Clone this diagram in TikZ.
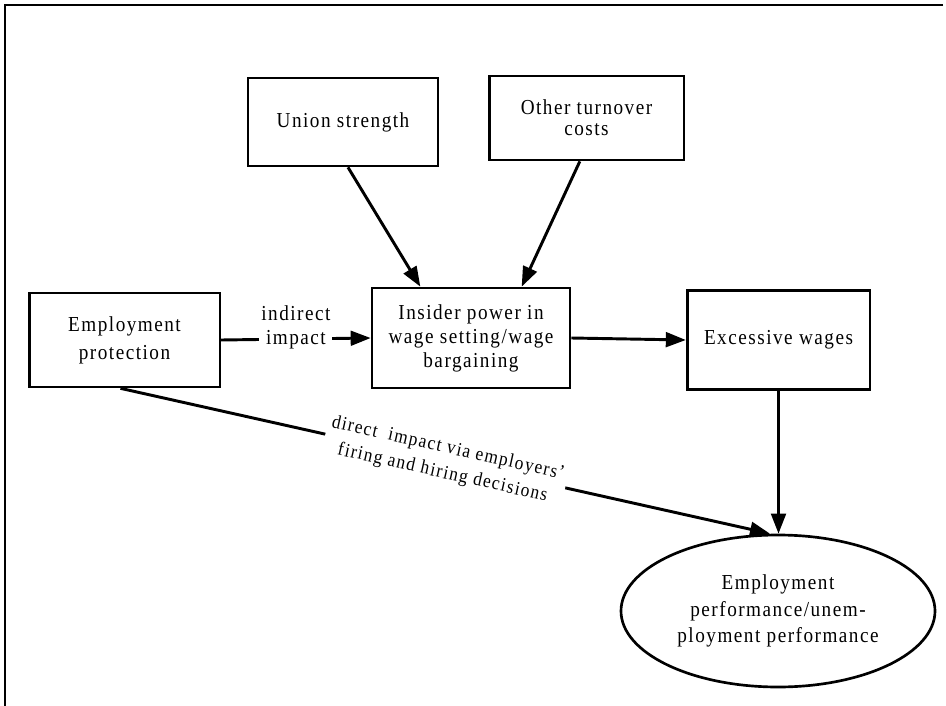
\documentclass[tikz,border=0pt]{standalone}
\usepackage{fontspec}
\setmainfont{Liberation Serif}[FakeStretch=0.9,LetterSpace=7]
\usetikzlibrary{shapes.geometric,arrows.meta,calc}
\begin{document}
\begin{tikzpicture}[x=0.75pt,y=-0.75pt,
  font=\fontsize{16}{18}\selectfont,
  box/.style={draw,line width=2pt,align=center,inner sep=2pt},
  arr/.style={line width=2.2pt,-{Triangle[length=15pt,width=11pt]}},
  lbl/.style={fill=white,inner sep=1.5pt,align=center}]
\useasboundingbox (0,0) rectangle (946,706);
\draw[line width=1.5pt] (943,5) -- (5,5) -- (5,706);

\node[box,minimum width=142.5pt,minimum height=66pt] (union) at (343,122) {Union strength};
\node[box,minimum width=146pt,minimum height=63pt] (other) at (586.5,118) {Other turnover\\[-2.5pt]costs};
\node[box,minimum width=148.5pt,minimum height=75pt] (ins) at (471,338) {Insider power in\\wage setting/wage\\bargaining};
\node[box,minimum width=143pt,minimum height=70.5pt] (emp) at (124.5,340) {Employment\\[3pt]protection};
\node[box,minimum width=137pt,minimum height=74pt] (exc) at (778.5,340) {Excessive wages};
\node[draw,ellipse,line width=2pt,align=center,inner sep=0pt,minimum width=235.5pt,minimum height=114pt] (ell) at (778,611) {Employment\\[2pt]performance/unem-\\[2pt]ployment performance};

\draw[arr] ([xshift=3.75pt]union.south) -- ([xshift=-38pt]ins.north);
\draw[arr] ([xshift=-5pt]other.south) -- ([xshift=38pt]ins.north);
\draw[arr] (emp.east) -- node[lbl,yshift=9pt] {indirect\\impact} (ins.west);
\draw[arr] (ins.east) -- (exc.west);
\draw[arr] (exc.south) -- (exc.south |- ell.north);
\draw[arr] ([xshift=-3pt]emp.south) -- node[lbl,sloped,pos=0.5,inner sep=3pt,font=\fontsize{14.5}{19}\selectfont] {direct~ impact via employers'\\firing and hiring decisions} ([xshift=-6pt]ell.north);
\end{tikzpicture}
\end{document}
